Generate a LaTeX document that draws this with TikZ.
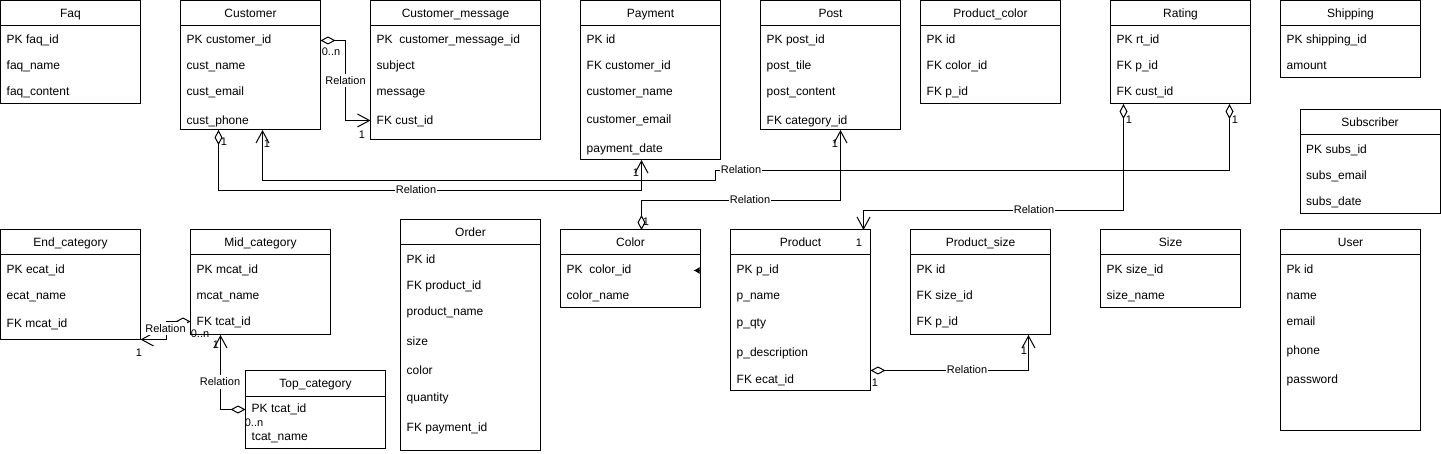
\documentclass[tikz,border=0pt]{standalone}
\usepackage{fontspec}
\setmainfont{Liberation Sans}
\usetikzlibrary{arrows.meta,calc}
\tikzset{
  ebox/.style={draw, line width=1pt, anchor=north west, inner sep=0pt, outer sep=0pt},
  etitle/.style={inner sep=0pt, font=\fontsize{12}{14}\selectfont, text height=10pt, text depth=2pt},
  erowst/.style={anchor=west, inner sep=0pt, font=\fontsize{12}{14}\selectfont, text height=10pt, text depth=2pt},
  lbl/.style={fill=white, inner sep=1pt, font=\fontsize{11}{13}\selectfont, text height=9pt, text depth=2pt},
  card/.style={inner sep=0pt, font=\fontsize{11}{13}\selectfont, text height=9pt, text depth=2pt},
  agg/.style={line width=1pt, {Diamond[open,length=15pt,width=8pt]}-{Straight Barb[length=12pt,width=13pt]}},
}
\newcommand{\entity}[6]{%
  \node[ebox, minimum width=#4pt, minimum height=#5pt] (#1) at (#2,#3) {};
  \node[etitle] (#1-t) at ($(#1.north west)+(#4/2,13)$) {#6};
  \draw[line width=1pt] ($(#1.north west)+(0,25)$) -- ($(#1.north east)+(0,25)$);
}
\newcommand{\erow}[4]{\node[erowst] (#1) at (#2,#3) {#4};}
\begin{document}
\begin{tikzpicture}[x=1pt,y=-1pt]
\useasboundingbox (0,0) rectangle (1441,454);
% ---------- top row ----------
\entity{faq}{0.5}{1}{140}{103}{Faq}
\erow{faq-1}{6.5}{40}{PK faq\_id}
\erow{faq-2}{6.5}{66}{faq\_name}
\erow{faq-3}{6.5}{92}{faq\_content}

\entity{cust}{180.5}{1}{140}{129}{Customer}
\erow{cust-1}{186.5}{40}{PK customer\_id}
\erow{cust-2}{186.5}{66}{cust\_name}
\erow{cust-3}{186.5}{92}{cust\_email}
\erow{cust-4}{186.5}{121}{cust\_phone}

\entity{cmsg}{370.5}{1}{170}{139}{Customer\_message}
\erow{cmsg-1}{376.5}{40}{PK\ \ customer\_message\_id}
\erow{cmsg-2}{376.5}{66}{subject}
\erow{cmsg-3}{376.5}{92}{message}
\erow{cmsg-4}{376.5}{121}{FK cust\_id}

\entity{pay}{580.5}{1}{140}{159}{Payment}
\erow{pay-1}{586.5}{40}{PK id}
\erow{pay-2}{586.5}{66}{FK customer\_id}
\erow{pay-3}{586.5}{92}{customer\_name}
\erow{pay-4}{586.5}{120}{customer\_email}
\erow{pay-5}{586.5}{149}{payment\_date}

\entity{post}{760.5}{1}{140}{129}{Post}
\erow{post-1}{766.5}{40}{PK post\_id}
\erow{post-2}{766.5}{66}{post\_tile}
\erow{post-3}{766.5}{92}{post\_content}
\erow{post-4}{766.5}{121}{FK category\_id}

\entity{pcol}{920.5}{1}{140}{103}{Product\_color}
\erow{pcol-1}{926.5}{40}{PK id}
\erow{pcol-2}{926.5}{66}{FK color\_id}
\erow{pcol-3}{926.5}{92}{FK p\_id}

\entity{rat}{1110.5}{1}{140}{103}{Rating}
\erow{rat-1}{1116.5}{40}{PK rt\_id}
\erow{rat-2}{1116.5}{66}{FK p\_id}
\erow{rat-3}{1116.5}{92}{FK cust\_id}

\entity{ship}{1280.5}{1}{140}{77}{Shipping}
\erow{ship-1}{1286.5}{40}{PK shipping\_id}
\erow{ship-2}{1286.5}{66}{amount}

\entity{subs}{1300}{110}{140}{104}{Subscriber}
\erow{subs-1}{1306}{150}{PK subs\_id}
\erow{subs-2}{1306}{176}{subs\_email}
\erow{subs-3}{1306}{202}{subs\_date}

% ---------- bottom row ----------
\entity{endc}{0.5}{230}{140}{110}{End\_category}
\erow{endc-1}{6.5}{270}{PK ecat\_id}
\erow{endc-2}{6.5}{296}{ecat\_name}
\erow{endc-3}{6.5}{324}{FK mcat\_id}

\entity{mid}{190.5}{230}{140}{105}{Mid\_category}
\erow{mid-1}{196.5}{270}{PK mcat\_id}
\erow{mid-2}{196.5}{296}{mcat\_name}
\erow{mid-3}{196.5}{322}{FK tcat\_id}

\entity{top}{245.5}{371}{140}{77}{Top\_category}
\erow{top-1}{251.5}{409}{PK tcat\_id}
\erow{top-2}{251.5}{436}{tcat\_name}

\entity{ord}{400.5}{220}{140}{230}{Order}
\erow{ord-1}{406.5}{260}{PK id}
\erow{ord-2}{406.5}{286}{FK product\_id}
\erow{ord-3}{406.5}{312}{product\_name}
\erow{ord-4}{406.5}{341}{size}
\erow{ord-5}{406.5}{370}{color}
\erow{ord-6}{406.5}{398}{quantity}
\erow{ord-7}{406.5}{427}{FK payment\_id}

\entity{col}{560.5}{230}{140}{78}{Color}
\erow{col-1}{566.5}{270}{PK\ \ color\_id}
\erow{col-2}{566.5}{296}{color\_name}

\entity{prod}{730.5}{230}{140}{160}{Product}
\erow{prod-1}{736.5}{270}{PK p\_id}
\erow{prod-2}{736.5}{296}{p\_name}
\erow{prod-3}{736.5}{323}{p\_qty}
\erow{prod-4}{736.5}{352}{p\_description}
\erow{prod-5}{736.5}{380}{FK ecat\_id}

\entity{psz}{910.5}{230}{140}{105}{Product\_size}
\erow{psz-1}{916.5}{270}{PK id}
\erow{psz-2}{916.5}{296}{FK size\_id}
\erow{psz-3}{916.5}{322}{FK p\_id}

\entity{size}{1100.5}{230}{140}{78}{Size}
\erow{size-1}{1106.5}{270}{PK size\_id}
\erow{size-2}{1106.5}{296}{size\_name}

\entity{user}{1280.5}{230}{140}{200}{User}
\erow{user-1}{1286.5}{270}{Pk id}
\erow{user-2}{1286.5}{296}{name}
\erow{user-3}{1286.5}{322}{email}
\erow{user-4}{1286.5}{351}{phone}
\erow{user-5}{1286.5}{380}{password}

% ---------- connectors ----------
% Customer -> Customer_message
\draw[agg] (cust.east |- 0,40.5) -- ++(25,0) |- (cmsg.west |- 0,120.5);
\node[lbl] (l-cm) at (345.5,81) {Relation};
\node[card] (c-cm1) at (331,52) {0..n};
\node[card] (c-cm2) at (362,135) {1};

% Customer -> Payment
\draw[agg] (cust.south -| 218.5,0) -- ++(0,60.5) -| (pay.south -| 641.5,0);
\node[lbl] (l-cp) at (416,190) {Relation};
\node[card] (c-cp1) at (224,142) {1};
\node[card] (c-cp2) at (636,173) {1};

% Rating -> Customer
\draw[agg] (rat.south -| 1229.5,0) -- ++(0,66.5) -| (715.5,180.5) -| (cust.south -| 262.5,0);
\node[lbl] (l-rc) at (741,170) {Relation};
\node[card] (c-rc1) at (1235,120) {1};
\node[card] (c-rc2) at (267,144) {1};

% Color -> Post
\draw[agg] (col.north -| 641.5,0) -- ++(0,-29.5) -| (post.south -| 840.5,0);
\node[lbl] (l-cpo) at (750,200) {Relation};
\node[card] (c-cpo1) at (646,222) {1};
\node[card] (c-cpo2) at (835,144) {1};

% Rating -> Product
\draw[agg] (rat.south -| 1123.5,0) -- ++(0,106.5) -| (prod.north -| 863.5,0);
\node[lbl] (l-rp) at (1034,210) {Relation};
\node[card] (c-rp1) at (1129,120) {1};
\node[card] (c-rp2) at (859,243) {1};

% Product -> Product_size
\draw[agg] (prod.east |- 0,370.5) -| (psz.south -| 1028.5,0);
\node[lbl] (l-pps) at (967,370) {Relation};
\node[card] (c-pps1) at (875,383) {1};
\node[card] (c-pps2) at (1024,351) {1};

% Mid_category -> End_category
\draw[agg] (mid.west |- 0,321.5) -- ++(-24,0) |- (endc.east |- 0,339.5);
\node[lbl] (l-me) at (165.5,329) {Relation};
\node[card] (c-me1) at (200,334) {0..n};
\node[card] (c-me2) at (139,353) {1};

% Top_category -> Mid_category
\draw[agg] (top.west |- 0,409.5) -| (mid.south -| 220.5,0);
\node[lbl] (l-tm) at (220,382) {Relation};
\node[card] (c-tm1) at (216,345) {1};
\node[card] (c-tm2) at (254,423) {0..n};

% small arrow at Color
\draw[line width=1pt, -{Latex[length=6pt,width=7pt]}] (col.east |- 0,270.5) -- ++(-7,0);
\end{tikzpicture}
\end{document}
